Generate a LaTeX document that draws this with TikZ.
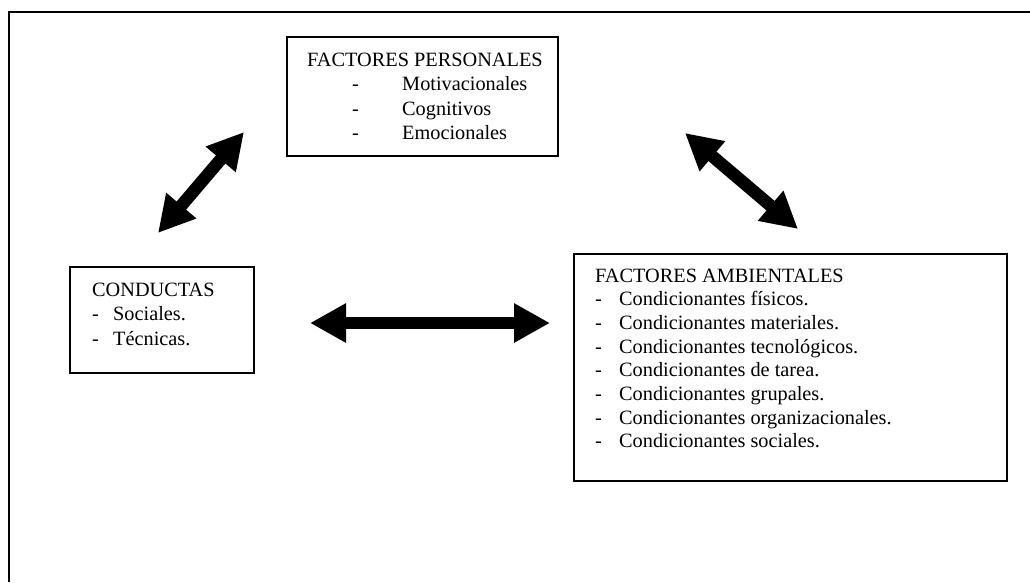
\documentclass[tikz,border=0pt]{standalone}
\usepackage{fontspec}
\setmainfont{Liberation Serif}
\usetikzlibrary{arrows.meta}
\begin{document}
\begin{tikzpicture}[x=1pt,y=-1pt,
  box/.style={draw,line width=2.2pt,inner sep=0pt,anchor=north west},
  txt/.style={anchor=base west,inner sep=0pt,font=\fontsize{20.3}{24}\selectfont},
  dbl/.style={line width=12.5pt,
    {Triangle[length=36pt,width=37pt]}-{Triangle[length=36pt,width=37pt]}}]
\useasboundingbox (0,0) rectangle (1030,582);
\fill[white] (0,0) rectangle (1030,582);
% page frame
\draw[line width=2.8pt] (9,582) -- (9,12) -- (1030,12);

% personal factors
\node[box,minimum width=271pt,minimum height=119pt] (pers) at (286,36) {};
\node[txt] (persT) at (307,66) {FACTORES PERSONALES};
\foreach \t [count=\i] in {Motivacionales,Cognitivos,Emocionales}{
  \node[txt] (persD\i) at (352,{66+24.5*\i}) {-};
  \node[txt] (pers\i) at (402,{66+24.5*\i}) {\t};
}

% behaviours
\node[box,minimum width=184pt,minimum height=106pt] (cond) at (69,266) {};
\node[txt] (condT) at (92,296) {CONDUCTAS};
\foreach \t [count=\i] in {Sociales.,Técnicas.}{
  \node[txt] (condD\i) at (92,{296+24.5*\i}) {-};
  \node[txt] (cond\i) at (113,{296+24.5*\i}) {\t};
}

% environmental factors
\node[box,minimum width=433pt,minimum height=227pt] (amb) at (573,253) {};
\node[txt] (ambT) at (595,282) {FACTORES AMBIENTALES};
\foreach \t [count=\i] in {Condicionantes físicos.,Condicionantes materiales.,
  Condicionantes tecnológicos.,Condicionantes de tarea.,Condicionantes grupales.,
  Condicionantes organizacionales.,Condicionantes sociales.}{
  \node[txt] (ambD\i) at (595,{282+23.7*\i}) {-};
  \node[txt] (amb\i) at (619,{282+23.7*\i}) {\t};
}

% double-headed arrows between the three blocks
\coordinate (pcA) at (244,132);
\coordinate (pcB) at (158,233);
\coordinate (paA) at (685,133);
\coordinate (paB) at (798,229);
\coordinate (caA) at (310,323);
\coordinate (caB) at (550,323);
\draw[dbl] (pcA) -- (pcB);
\draw[dbl] (paA) -- (paB);
\draw[dbl] (caA) -- (caB);
\end{tikzpicture}
\end{document}
